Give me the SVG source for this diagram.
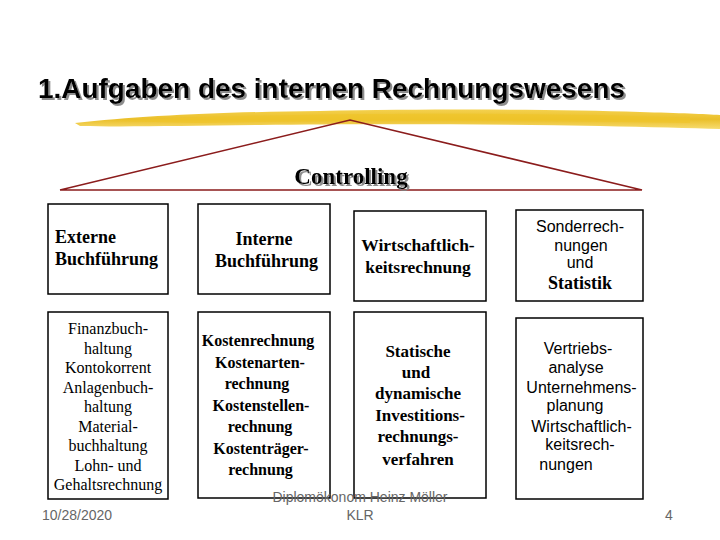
<svg xmlns="http://www.w3.org/2000/svg" width="720" height="540" viewBox="0 0 720 540">
<style>
.box{fill:#fff;stroke:#000;stroke-width:1.5}
.tb{font-family:"Liberation Serif","Times New Roman",serif;font-weight:bold;font-size:18px;fill:#000;text-anchor:middle}
.t16{font-size:16px}
.t17{font-size:17px}
.tr{font-family:"Liberation Serif","Times New Roman",serif;font-size:16px;fill:#000;text-anchor:middle}
.sa{font-family:"Liberation Sans",Arial,sans-serif;font-size:16px;fill:#000;text-anchor:middle}
.ft{font-family:"Liberation Sans",Arial,sans-serif;font-size:14px;fill:#666}
</style>
<defs>
<linearGradient id="yb" x1="0" y1="0" x2="0" y2="1">
<stop offset="0" stop-color="#f3cc3a"/>
<stop offset="0.5" stop-color="#e8b812"/>
<stop offset="1" stop-color="#f6d860"/>
</linearGradient>
<filter id="sh" x="-5%" y="-20%" width="110%" height="150%">
<feDropShadow dx="2" dy="2" stdDeviation="0.6" flood-color="#808080" flood-opacity="0.9"/>
</filter>
</defs>
<rect width="720" height="540" fill="#fff"/>
<g id="title">
<text x="38" y="98" font-family="Liberation Sans,Arial,sans-serif" font-weight="bold" font-size="27" fill="#000" textLength="587" lengthAdjust="spacingAndGlyphs" filter="url(#sh)">1.Aufgaben des internen Rechnungswesens</text>
</g>
<g id="brush">
<path d="M75,123 C140,116 220,112 320,111 C430,109 560,109 640,112 C680,113 705,114 720,115 L720,129 C690,128 650,127 600,126 C480,124 360,124 260,125 C180,126 120,127 80,126 Z" fill="url(#yb)" opacity="0.9"/>
<path d="M110,121 C250,114 420,112 600,115 L690,118 L690,123 C520,120 360,120 200,123 Z" fill="#f0c42a" opacity="0.7"/>
</g>
<g id="controlling">
<polyline points="60,190 350,120 642,190 60,190" fill="none" stroke="#8b1c1c" stroke-width="1.5"/>
<text x="351" y="184" font-family="Liberation Serif,Times New Roman,serif" font-weight="bold" font-size="23" fill="#000" text-anchor="middle" filter="url(#sh)">Controlling</text>
</g>
<g id="n1"><rect class="box" x="48" y="204" width="120" height="90"/>
<text class="tb" x="55" y="243" style="text-anchor:start">Externe</text>
<text class="tb" x="55" y="265" style="text-anchor:start">Buchführung</text></g>
<g id="n2"><rect class="box" x="198" y="204" width="132" height="90"/>
<text class="tb" x="264" y="245">Interne</text>
<text class="tb" x="266.5" y="267">Buchführung</text></g>
<g id="n3"><rect class="box" x="354" y="211" width="132" height="90"/>
<text class="tb" x="418" y="251" style="font-size:17.5px">Wirtschaftlich-</text>
<text class="tb" x="418" y="273" style="font-size:17.5px">keitsrechnung</text></g>
<g id="n4"><rect class="box" x="516" y="210" width="127" height="91"/>
<text class="sa" x="580" y="232">Sonderrech-</text>
<text class="sa" x="581" y="251">nungen</text>
<text class="sa" x="580" y="268">und</text>
<text class="tb" x="580" y="289">Statistik</text></g>
<g id="n5"><rect class="box" x="48" y="312" width="120" height="187"/>
<text class="tr" x="108" y="334">Finanzbuch-</text>
<text class="tr" x="108" y="353.5">haltung</text>
<text class="tr" x="108" y="373">Kontokorrent</text>
<text class="tr" x="108" y="392.5">Anlagenbuch-</text>
<text class="tr" x="108" y="412">haltung</text>
<text class="tr" x="108" y="431.5">Material-</text>
<text class="tr" x="108" y="451">buchhaltung</text>
<text class="tr" x="108" y="470.5">Lohn- und</text>
<text class="tr" x="108" y="490">Gehaltsrechnung</text></g>
<g id="n6"><rect class="box" x="198" y="312" width="132" height="186"/>
<text class="tb t16" x="258" y="346">Kostenrechnung</text>
<text class="tb t16" x="260" y="368">Kostenarten-</text>
<text class="tb t16" x="257" y="389">rechnung</text>
<text class="tb t16" x="261" y="411">Kostenstellen-</text>
<text class="tb t16" x="260" y="432">rechnung</text>
<text class="tb t16" x="261" y="454">Kostenträger-</text>
<text class="tb t16" x="260.5" y="475">rechnung</text></g>
<g id="n7"><rect class="box" x="354" y="312" width="132" height="186"/>
<text class="tb t17" x="418" y="357">Statische</text>
<text class="tb t17" x="416" y="378">und</text>
<text class="tb t17" x="418" y="399">dynamische</text>
<text class="tb t17" x="420" y="421">Investitions-</text>
<text class="tb t17" x="418" y="442">rechnungs-</text>
<text class="tb t17" x="418" y="465">verfahren</text></g>
<g id="n8"><rect class="box" x="516" y="318" width="127" height="181"/>
<text class="sa" x="578" y="354">Vertriebs-</text>
<text class="sa" x="576" y="373">analyse</text>
<text class="sa" x="581.5" y="393">Unternehmens-</text>
<text class="sa" x="575" y="411">planung</text>
<text class="sa" x="581.5" y="432">Wirtschaftlich-</text>
<text class="sa" x="580" y="450">keitsrech-</text>
<text class="sa" x="566" y="470">nungen</text></g>
<g id="connectors"></g>
<g id="footer">
<text class="ft" x="42" y="520">10/28/2020</text>
<text class="ft" x="360" y="502" text-anchor="middle">Diplomökonom Heinz Möller</text>
<text class="ft" x="360" y="520" text-anchor="middle">KLR</text>
<text class="ft" x="665" y="520">4</text>
</g>
</svg>
